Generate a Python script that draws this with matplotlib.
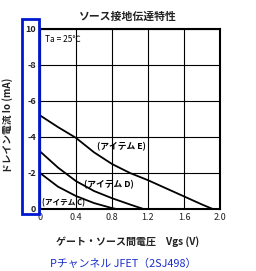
import matplotlib
matplotlib.use("Agg")
import matplotlib.pyplot as plt
from matplotlib.patches import Rectangle

plt.rcParams['font.family'] = ['Noto Sans CJK JP', 'DejaVu Sans']

# data
e_x = [0, 0.2, 0.4, 0.6, 0.8, 1.0, 1.2, 1.4, 1.6, 1.8, 1.92]
e_y = [5.2, 4.55, 3.95, 3.15, 2.5, 2.0, 1.6, 1.15, 0.7, 0.25, 0.0]
d_x = [0, 0.2, 0.4, 0.6, 0.8, 1.0, 1.15]
d_y = [3.2, 2.3, 1.55, 1.0, 0.6, 0.25, 0.0]
c_x = [0, 0.2, 0.4, 0.6, 0.8, 0.85]
c_y = [2.0, 1.24, 0.72, 0.33, 0.05, 0.0]
x_ticks = [0, 0.4, 0.8, 1.2, 1.6, 2.0]
x_labels = ["0", "0.4", "0.8", "1.2", "1.6", "2.0"]
y_ticks = [0, 2, 4, 6, 8, 10]
y_labels = ["0", "-2", "-4", "-6", "-8", "10"]

fig = plt.figure(figsize=(2.56, 2.71), dpi=100)
ax = fig.add_axes([40/256, 62/271, 180/256, 180/271])
for xs, ys in [(e_x, e_y), (d_x, d_y), (c_x, c_y)]:
    ax.plot(xs, ys, color='black', lw=1.3, solid_joinstyle='round')
ax.set_xlim(0, 2.0)
ax.set_ylim(0, 10)
ax.set_xticks(x_ticks)
ax.set_xticklabels(x_labels, fontsize=6.5, color='#222222')
ax.set_yticks(y_ticks)
ax.set_yticklabels(y_labels, fontsize=6.5, color='#222222', fontweight='bold')
ax.tick_params(length=0, pad=3)
ax.grid(True, color='black', lw=0.8)
for s in ax.spines.values():
    s.set_linewidth(1.5)

ax.text(0.06, 9.4, "Ta = 25℃", fontsize=6, ha='left', va='center')
ax.text(0.91, 3.45, "(アイテム E)", fontsize=6.3, ha='center', va='center', fontweight='bold')
ax.text(0.77, 1.33, "(アイテム D)", fontsize=6.3, ha='center', va='center', fontweight='bold')
ax.text(0.26, 0.33, "(アイテム C)", fontsize=5.5, ha='center', va='center', fontweight='bold')

fig.text(128/256, 1 - 17/271, "ソース接地伝達特性", fontsize=7.8, ha='center', va='center', color='#222222', fontweight='bold')
fig.text(8/256, 1 - 125/271, "ドレイン電流 Io (mA)", fontsize=7, rotation=90, ha='center', va='center', color='#222222', fontweight='bold')
fig.text(128/256, 1 - 242/271, "ゲート・ソース間電圧　Vgs (V)", fontsize=7.2, ha='center', va='center', color='#222222', fontweight='bold')
fig.text(123/256, 1 - 264/271, "Pチャンネル JFET（2SJ498）", fontsize=7.8, ha='center', va='center', color='#1a2fcc')

fig.patches.append(Rectangle((22/256, 57/271), 17/256, 195/271, transform=fig.transFigure,
                             fill=False, edgecolor='#0018d0', lw=2))
fig.savefig("out.png", dpi=100, facecolor='white')
